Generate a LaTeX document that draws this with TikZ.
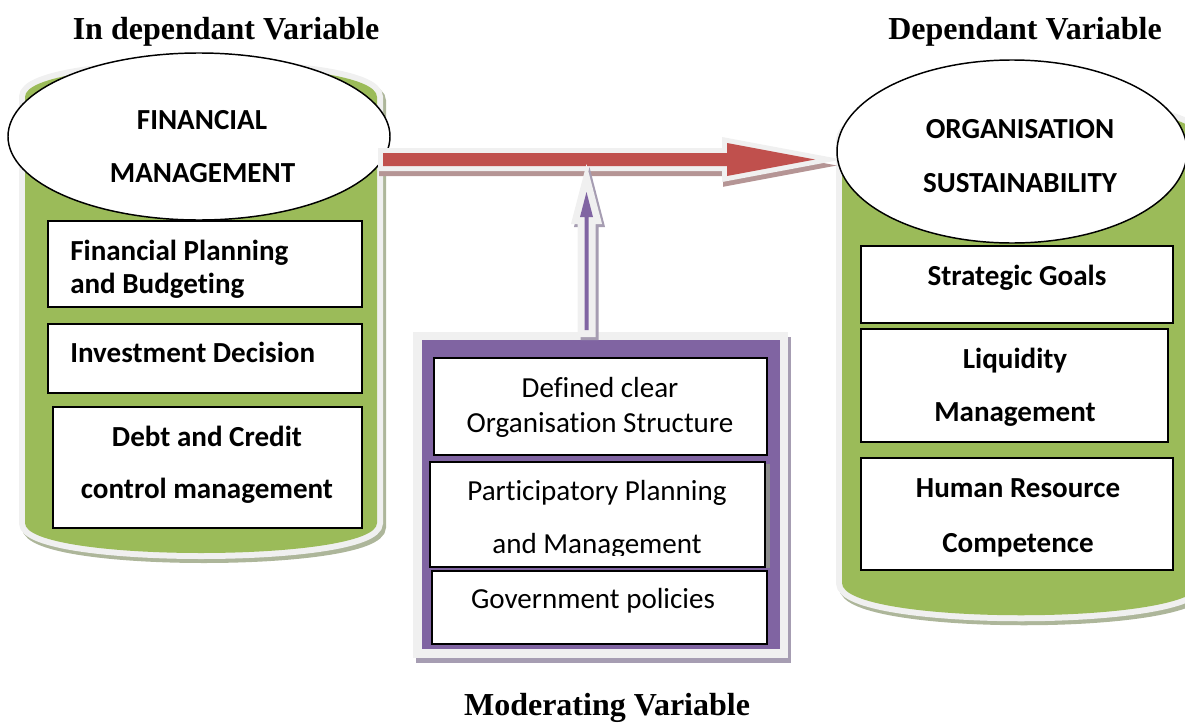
\documentclass[tikz,border=0pt]{standalone}
\usepackage{fontspec}
\setmainfont{Liberation Serif}
\newfontfamily\calibri[RawFeature={-liga;-clig;-calt;-dlig}]{Carlito}
\usetikzlibrary{shapes.geometric,fit,calc}

\definecolor{cylgreen}{HTML}{9BBB59}
\definecolor{rim}{HTML}{F0F0F0}
\definecolor{cylshadow}{HTML}{ADB69A}
\definecolor{arrowred}{HTML}{C0504D}
\definecolor{redshadow}{HTML}{B59595}
\definecolor{modpurple}{HTML}{8064A2}
\definecolor{purpleshadow}{HTML}{A69DB2}
\definecolor{boxshadow}{HTML}{8C8C8C}

% drum outline: left x, right x, top corner y, top control y, side bottom y, bottom control y
\newcommand\drum[6]{(#1,#3) .. controls (#1,#4) and (#2,#4) .. (#2,#3) -- (#2,#5) .. controls (#2,#6) and (#1,#6) .. (#1,#5) -- cycle}

\begin{document}
\begin{tikzpicture}[x=0.75pt,y=-0.75pt,
  box/.style={draw=black, line width=1.5pt, fill=white, inner sep=0pt},
  ell/.style={ellipse, draw=black, line width=1.1pt, fill=white, inner sep=0pt},
  bt/.style={font=\calibri\bfseries\fontsize{21.8}{26}\selectfont, inner sep=0pt, anchor=base},
  rt/.style={font=\calibri\fontsize{21.8}{26}\selectfont, inner sep=0pt, anchor=base},
  ttl/.style={font=\bfseries\fontsize{24}{28}\selectfont, inner sep=0pt, anchor=base},
  drumshadow/.style={fill=cylshadow, draw=cylshadow, line width=9pt, transform canvas={xshift=2.25pt,yshift=-3pt}},
  drumrim/.style={fill=rim, draw=rim, line width=9pt},
]
\useasboundingbox (0,0) rectangle (1185,724);
\clip (0,0) rectangle (1185,724);

% ---------- headings ----------
\node[ttl] (ttlL) at (226,40) {In dependant Variable};
\node[ttl] (ttlR) at (1025,40) {Dependant Variable};
\node[ttl] (ttlM) at (607,715) {Moderating Variable};

% ---------- left drum: independent variable ----------
\path[drumshadow] \drum{25}{377}{97}{55}{523}{563};
\path[drumrim] \drum{25}{377}{97}{55}{523}{563};
\fill[cylgreen] \drum{25}{377}{97}{55}{523}{563};
\node[ell, minimum width=286.5pt, minimum height=125.25pt] (fin) at (199,136.5) {};
\node[bt] (finT1) at (202,129) {FINANCIAL};
\node[bt] (finT2) at (202.5,182) {MANAGEMENT};

\node[box, fit={(48,221) (362,307)}] (plan) {};
\node[bt, anchor=base west] (planT1) at (70,260) {Financial Planning};
\begin{scope}
  \clip (48,221) rectangle (362,297);
  \node[bt, anchor=base west] (planT2) at (70,293) {and Budgeting};
\end{scope}
\node[box, fit={(48,324) (362,393)}] (inv) {};
\node[bt, anchor=base west] (invT) at (70,362) {Investment Decision};
\node[box, fit={(53,407) (362,528)}] (debt) {};
\node[bt] (debtT1) at (207,446) {Debt and Credit};
\node[bt] (debtT2) at (207,498) {control management};

% ---------- right drum: dependent variable ----------
\path[drumshadow] \drum{842}{1200}{140}{90}{583}{626};
\path[drumrim] \drum{842}{1200}{140}{90}{583}{626};
\fill[cylgreen] \drum{842}{1200}{140}{90}{583}{626};

\node[box, fit={(861,246) (1173,323)}] (goal) {};
\node[bt] (goalT) at (1017,285) {Strategic Goals};
\node[box, fit={(861,329) (1168,442)}] (liq) {};
\node[bt] (liqT1) at (1015,368) {Liquidity};
\node[bt] (liqT2) at (1015,421) {Management};
\node[box, fit={(861,458) (1173,570)}] (hr) {};
\node[bt] (hrT1) at (1018,497) {Human Resource};
\node[bt] (hrT2) at (1018,552) {Competence};

% ---------- moderating variable frame ----------
\fill[purpleshadow] (416,337) rectangle (791,663);
\fill[rim] (413,332) rectangle (788,658);
\node[fill=modpurple, inner sep=0pt, fit={(422,340) (780,649)}] (mod) {};
\node[box, fit={(434,358) (767,455)}] (struct) {};
\node[rt] (structT1) at (600,397) {Defined clear};
\node[rt] (structT2) at (600,432) {Organisation Structure};
\fill[boxshadow] (765,464) rectangle (770,568);
\node[box, fit={(430,462) (765,567)}] (part) {};
\node[rt] (partT1) at (597,500) {Participatory Planning};
\begin{scope}
  \clip (430,462) rectangle (765,555);
  \node[rt] (partT2) at (597,553) {and Management};
\end{scope}
\node[box, fit={(432,571) (767,644)}] (gov) {};
\node[rt] (govT) at (593,608) {Government policies};

% ---------- main block arrow: financial management -> sustainability ----------
\coordinate (ra0) at (383,159.5);
\coordinate (ra1) at (815,159.5);
\path[fill=arrowred,
  preaction={fill=redshadow, draw=redshadow, line width=6pt, line join=miter, transform canvas={yshift=-4.5pt}},
  preaction={fill=rim, draw=rim, line width=7.5pt, line join=miter}]
  ($(ra0)+(0,-6.5)$) -- ($(ra1)+(-88,-6.5)$) -- ($(ra1)+(-88,-16.5)$) -- (ra1)
  -- ($(ra1)+(-88,16.5)$) -- ($(ra1)+(-88,6.5)$) -- ($(ra0)+(0,6.5)$) -- cycle;

\node[ell, minimum width=262.5pt, minimum height=137.25pt] (org) at (1012,151.5) {};
\node[bt] (orgT1) at (1020,138) {ORGANISATION};
\node[bt] (orgT2) at (1020,192) {SUSTAINABILITY};

% ---------- moderating arrow ----------
\coordinate (pa0) at (586.5,330);
\coordinate (pa1) at (586.5,192);
\path[fill=modpurple,
  preaction={fill=purpleshadow, draw=purpleshadow, line width=10.5pt, line join=miter, transform canvas={xshift=2.25pt,yshift=-2.25pt}},
  preaction={fill=rim, draw=rim, line width=10.5pt, line join=miter}]
  ($(pa0)+(-2,0)$) -- ($(pa1)+(-2,25)$) -- ($(pa1)+(-6.5,25)$) -- (pa1)
  -- ($(pa1)+(6.5,25)$) -- ($(pa1)+(2,25)$) -- ($(pa0)+(2,0)$) -- cycle;
\end{tikzpicture}
\end{document}
